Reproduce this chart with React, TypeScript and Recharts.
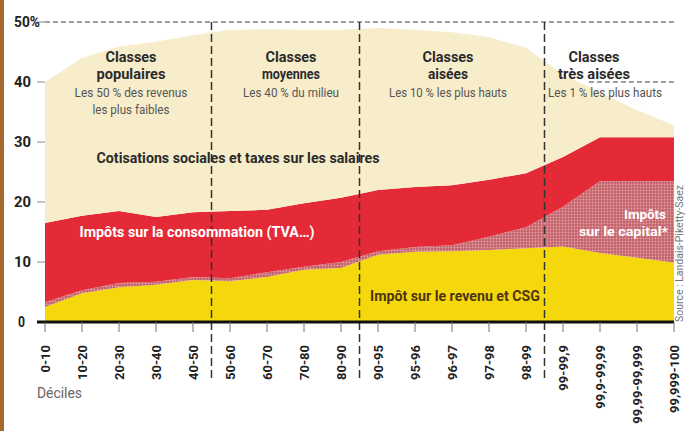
import React from 'react';
import { AreaChart, Area, XAxis, YAxis, ReferenceLine } from 'recharts';

// Déciles de revenu (axe horizontal)
const deciles = [
    '0-10', '10-20', '20-30', '30-40', '40-50', '50-60', '60-70', '70-80', '80-90',
    '90-95', '95-96', '96-97', '97-98', '98-99', '99-99,9', '99,9-99,99', '99,99-99,999', '99,999-100',
];

// Taux par type de prélèvement, en % du revenu (empilés de bas en haut)
const impotRevenu = [2.5, 4.8, 5.8, 6.2, 7.0, 6.8, 7.5, 8.7, 9.0, 11.2, 11.7, 11.8, 12.0, 12.3, 12.6, 11.5, 10.7, 9.9];
const impotCapital = [0.8, 0.5, 0.7, 0.5, 0.5, 0.5, 0.8, 0.5, 1.0, 0.6, 0.8, 1.0, 2.2, 3.5, 6.6, 12.0, 12.8, 13.6];
const consommation = [13.2, 12.4, 12.0, 10.8, 10.8, 11.2, 10.4, 10.6, 10.7, 10.2, 10.0, 10.0, 9.5, 9.0, 8.3, 7.3, 7.3, 7.3];
const cotisations = [23.5, 26.3, 27.4, 29.2, 29.5, 30.2, 30.1, 28.9, 28.0, 27.0, 26.2, 25.5, 23.8, 20.9, 13.7, 7.5, 4.5, 2.0];

const yTicks = [0, 10, 20, 30, 40, 50];

const data = deciles.map((d, i) => ({
    i,
    decile: d,
    revenu: impotRevenu[i],
    capital: impotCapital[i],
    conso: consommation[i],
    cotis: cotisations[i],
}));

const FONT = 'Roboto, Arial, sans-serif';

// texte "condensé" : on tasse le texte à la largeur voulue
const T = ({ x, y, w, size = 14, bold = true, fill = '#2a2a2a', anchor = 'middle', children }: any) => (
    <text
        x={x}
        y={y}
        textAnchor={anchor}
        fontFamily={FONT}
        fontWeight={bold ? 'bold' : 'normal'}
        fontSize={size}
        fill={fill}
        textLength={w}
        lengthAdjust="spacingAndGlyphs"
    >
        {children}
    </text>
);

const YTick = ({ y, payload }: any) => {
    const isZero = payload.value === 0;
    return (
        <g>
            <line x1={37} x2={45} y1={y} y2={y} stroke={isZero ? '#111' : '#888'} strokeWidth={isZero ? 3 : 1} />
            <text
                x={isZero ? 18 : 14}
                y={y}
                dy={5}
                fontFamily={FONT}
                fontWeight="bold"
                fontSize={15}
                fill="#222"
                textLength={payload.value === 50 ? 26 : isZero ? 7 : 17}
                lengthAdjust="spacingAndGlyphs"
            >
                {payload.value === 50 ? '50%' : payload.value}
            </text>
        </g>
    );
};

const XTick = ({ x, y, payload }: any) => (
    <text
        transform={`translate(${x},${y}) rotate(-90)`}
        textAnchor="end"
        dy="0.35em"
        fontFamily={FONT}
        fontWeight="bold"
        fontSize={13}
        fill="#222"
    >
        {deciles[payload.value]}
    </text>
);

const classes = [
    { x: 131, titre: [['Classes', 51], ['populaires', 69]], sous: [['Les 50 % des revenus', 113], ['les plus faibles', 77]] },
    { x: 291, titre: [['Classes', 51], ['moyennes', 58]], sous: [['Les 40 % du milieu', 96]] },
    { x: 448, titre: [['Classes', 51], ['aisées', 40]], sous: [['Les 10 % les plus hauts', 118]] },
    { x: 594, titre: [['Classes', 51], ['très aisées', 72]], sous: [['Les 1 % les plus hauts', 114]] },
];

export default function App() {
    return (
        <div style={{ position: 'absolute', left: 0, top: 0, width: 688, height: 431, background: '#fff' }}>
            <div style={{ position: 'absolute', left: 0, top: 0, width: 4, height: 431, background: '#a5682f' }} />
            <AreaChart width={688} height={431} data={data} margin={{ top: 22, right: 14, bottom: 29, left: 0 }}>
                <defs>
                    <pattern id="points" width="3" height="3" patternUnits="userSpaceOnUse">
                        <rect width="3" height="3" fill="#c4626c" />
                        <circle cx="1.5" cy="1.5" r="0.9" fill="#e4a3a6" />
                    </pattern>
                </defs>
                <XAxis
                    dataKey="i"
                    type="number"
                    domain={[0, 17]}
                    ticks={deciles.map((_, i) => i)}
                    interval={0}
                    height={80}
                    axisLine={{ stroke: '#111', strokeWidth: 3 }}
                    tickLine={{ stroke: '#777' }}
                    tickSize={10}
                    tickMargin={13}
                    tick={<XTick />}
                />
                <YAxis
                    type="number"
                    domain={[0, 50]}
                    ticks={yTicks}
                    width={45}
                    axisLine={false}
                    tickLine={false}
                    tick={<YTick />}
                />
                <Area type="linear" dataKey="revenu" stackId="t" stroke="none" fill="#f4d80c" fillOpacity={1} isAnimationActive={false} />
                <Area type="linear" dataKey="capital" stackId="t" stroke="none" fill="url(#points)" fillOpacity={1} isAnimationActive={false} />
                <Area type="linear" dataKey="conso" stackId="t" stroke="none" fill="#e42a36" fillOpacity={1} isAnimationActive={false} />
                <Area type="linear" dataKey="cotis" stackId="t" stroke="none" fill="#f7edcb" fillOpacity={1} isAnimationActive={false} />
                <ReferenceLine y={50} stroke="#444" strokeDasharray="5 3" strokeWidth={1.2} />
                {[4.5, 8.5, 13.5].map((v) => (
                    <ReferenceLine
                        key={v}
                        segment={[{ x: v, y: 50 }, { x: v, y: -10 }]}
                        ifOverflow="visible"
                        stroke="#333"
                        strokeWidth={1.5}
                        strokeDasharray="8 4"
                    />
                ))}
                <ReferenceLine
                    segment={[{ x: 14.7, y: 40 }, { x: 17, y: 40 }]}
                    stroke="#444"
                    strokeWidth={1.2}
                    strokeDasharray="5 3"
                />
            </AreaChart>
            <svg width={688} height={431} style={{ position: 'absolute', left: 0, top: 0, pointerEvents: 'none' }}>
                {classes.map((c) => (
                    <g key={c.x}>
                        {c.titre.map(([t, w]: any, k) => (
                            <T key={t} x={c.x} y={62 + k * 17} w={w} size={15}>{t}</T>
                        ))}
                        {c.sous.map(([t, w]: any, k) => (
                            <T key={t} x={c.x + (c.x > 560 ? 11 : 0)} y={97 + k * 17} w={w} size={12} bold={false} fill="#555">{t}</T>
                        ))}
                    </g>
                ))}
                <T x={238} y={163} w={283} size={15}>Cotisations sociales et taxes sur les salaires</T>
                <T x={197} y={237} w={235} size={15} fill="#fff">Impôts sur la consommation (TVA…)</T>
                <T x={455} y={301} w={170} size={15} fill="#4d3510">Impôt sur le revenu et CSG</T>
                <T x={666} y={219} w={42} size={13} fill="#fff" anchor="end">Impôts</T>
                <T x={668} y={236} w={89} size={13} fill="#fff" anchor="end">sur le capital*</T>
                <T x={37} y={398} w={45} size={14} bold={false} fill="#666" anchor="start">Déciles</T>
                <text
                    transform="translate(683,322) rotate(-90)"
                    fontFamily={FONT}
                    fontSize={10}
                    fill="#777"
                    textLength={137}
                    lengthAdjust="spacingAndGlyphs"
                >
                    Source : Landais-Piketty-Saez
                </text>
            </svg>
        </div>
    );
}
